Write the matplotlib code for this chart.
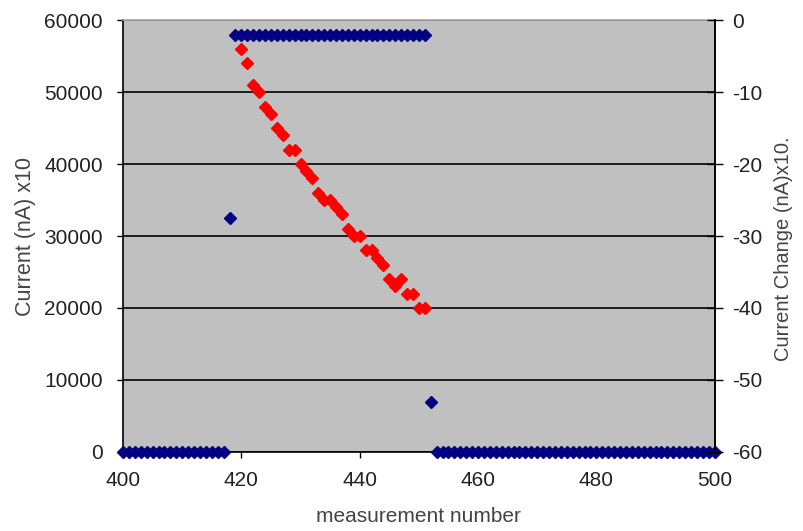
import matplotlib
matplotlib.use("Agg")
import matplotlib.pyplot as plt

plt.rcParams['font.family'] = ['Liberation Sans', 'DejaVu Sans']
plt.rcParams['axes.unicode_minus'] = False

# measurement number and current (nA)x10 -- left axis, blue
meas = list(range(400, 501))
current = [
    0, 0, 0, 0, 0, 0, 0, 0, 0, 0,            # 400-409
    0, 0, 0, 0, 0, 0, 0, 0, 32500, 57900,    # 410-419
    57900, 57900, 57900, 57900, 57900, 57900, 57900, 57900, 57900, 57900,  # 420-429
    57900, 57900, 57900, 57900, 57900, 57900, 57900, 57900, 57900, 57900,  # 430-439
    57900, 57900, 57900, 57900, 57900, 57900, 57900, 57900, 57900, 57900,  # 440-449
    57900, 57900, 7000, 0, 0, 0, 0, 0, 0, 0,  # 450-459
    0, 0, 0, 0, 0, 0, 0, 0, 0, 0,            # 460-469
    0, 0, 0, 0, 0, 0, 0, 0, 0, 0,            # 470-479
    0, 0, 0, 0, 0, 0, 0, 0, 0, 0,            # 480-489
    0, 0, 0, 0, 0, 0, 0, 0, 0, 0,            # 490-499
    0,                                       # 500
]

# current change (nA)x10 -- right axis, red
change_x = list(range(420, 452))
change = [-4, -6, -9, -10, -12, -13, -15, -16, -18, -18,
          -20, -21, -22, -24, -25, -25, -26, -27, -29, -30,
          -30, -32, -32, -33, -34, -36, -37, -36, -38, -38,
          -40, -40]

fig = plt.figure(figsize=(8.04, 5.31), dpi=100)
ax = fig.add_axes([0.153, 0.149, 0.736, 0.813])
ax.set_facecolor('#c0c0c0')

ax.plot(meas, current, linestyle='none', marker='D', markersize=6.3,
        color='#000080', clip_on=False, zorder=3)

ax.set_xlim(400, 500)
ax.set_ylim(0, 60000)
ax.set_xticks([400, 420, 440, 460, 480, 500])
ax.set_yticks(range(0, 60001, 10000))
ax.grid(axis='y', color='black', linewidth=1.2)
ax.set_axisbelow(True)
ax.tick_params(axis='both', direction='out', length=4.5, width=1, labelsize=15,
               colors='black', labelcolor='#222222')
ax.tick_params(axis='x', pad=9)
ax.tick_params(axis='y', pad=10)
ax.set_xlabel('measurement number', fontsize=15, color='#444444')
ax.set_ylabel('Current (nA) x10', fontsize=15.5, color='#444444')
ax.xaxis.set_label_coords(0.5, -0.128)
ax.yaxis.set_label_coords(-0.147, 0.5)
for s in ax.spines.values():
    s.set_color('black')
    s.set_linewidth(1.2)
ax.spines['top'].set_color('#aaaaaa')

ax2 = ax.twinx()
ax2.plot(change_x, change, linestyle='none', marker='D', markersize=6.5,
         color='#ff0000', zorder=3)
ax2.set_ylim(-60, 0)
ax2.set_yticks(range(-60, 1, 10))
ax2.tick_params(axis='y', direction='inout', length=11.5, width=1, labelsize=15,
                labelcolor='#222222', pad=6.5)
ax2.set_ylabel('Current Change (nA)x10.', fontsize=14.5, color='#444444')
ax2.yaxis.set_label_coords(1.1, 0.47)
for s in ax2.spines.values():
    s.set_visible(False)
ax2.spines['right'].set_visible(True)
ax2.spines['right'].set_linewidth(1.2)

fig.savefig('out.png', dpi=100)
